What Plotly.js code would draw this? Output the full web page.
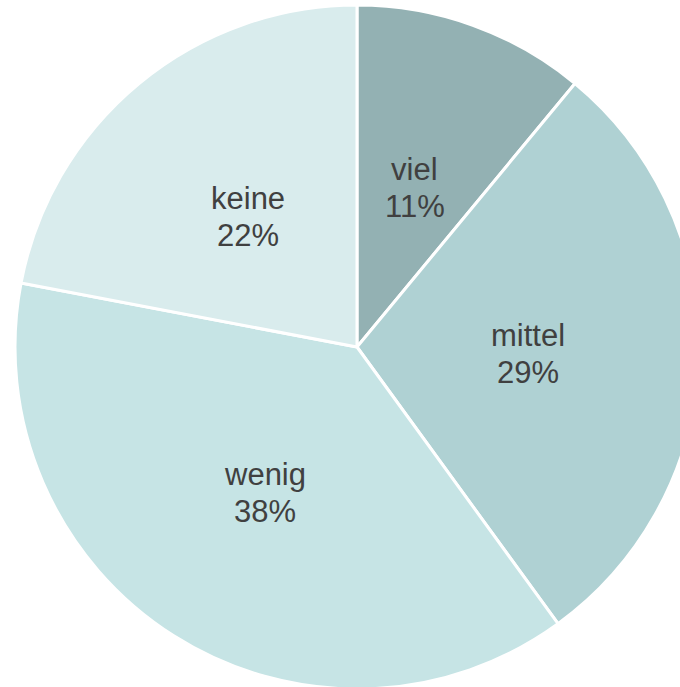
<!DOCTYPE html>
<html>
<head>
<meta charset="utf-8">
<script src="https://cdn.plot.ly/plotly-3.0.1.min.js"></script>
<style>
html,body{margin:0;padding:0;overflow:hidden;background:#fff;width:680px;height:687px;}
#chart{width:700px;height:700px;}
</style>
</head>
<body>
<div id="chart"></div>
<script>
const labels = ["viel", "mittel", "wenig", "keine"];
const values = [11, 29, 38, 22];
const colors = ["#93b1b3", "#afd1d3", "#c6e4e5", "#d9eced"];

const W = 700, H = 700;
const CX = 357, CY = 347, R = 342;   // pie geometry in pixels
const LABEL_R = 0.5;                  // labels at half radius
const LINE_GAP = 18.5;
const LABEL_DY = 2;

const total = values.reduce((a, b) => a + b, 0);
let cum = 0;
const ax = [], ay = [], pct = [];
values.forEach(v => {
  const mid = (cum + v / 2) / total * 2 * Math.PI;
  cum += v;
  ax.push(CX + LABEL_R * R * Math.sin(mid));
  ay.push(CY + LABEL_DY - LABEL_R * R * Math.cos(mid));
  pct.push(Math.round(v / total * 100) + "%");
});

const font = {family: "Liberation Sans, Arial, sans-serif", size: 31, color: "#404040"};

const pie = {
  type: "pie",
  labels: labels,
  values: values,
  sort: false,
  direction: "clockwise",
  rotation: 0,
  marker: {colors: colors, line: {color: "#ffffff", width: 3}},
  textinfo: "none",
  hoverinfo: "none",
  domain: {x: [(CX - R) / W, (CX + R) / W], y: [1 - (CY + R) / H, 1 - (CY - R) / H]}
};
const annotations = [];
labels.forEach((lab, i) => {
  annotations.push({x: ax[i], y: ay[i] - LINE_GAP, xref: "x", yref: "y", text: lab,
    showarrow: false, font: font, xanchor: "center", yanchor: "middle"});
  annotations.push({x: ax[i], y: ay[i] + LINE_GAP, xref: "x", yref: "y", text: pct[i],
    showarrow: false, font: font, xanchor: "center", yanchor: "middle"});
});
const layout = {
  width: W, height: H,
  margin: {l: 0, r: 0, t: 0, b: 0},
  showlegend: false,
  paper_bgcolor: "#ffffff",
  plot_bgcolor: "rgba(0,0,0,0)",
  xaxis: {range: [0, W], visible: false, fixedrange: true},
  yaxis: {range: [H, 0], visible: false, fixedrange: true},
  annotations: annotations
};
Plotly.newPlot("chart", [pie], layout, {staticPlot: true, displayModeBar: false});
</script>
</body>
</html>
